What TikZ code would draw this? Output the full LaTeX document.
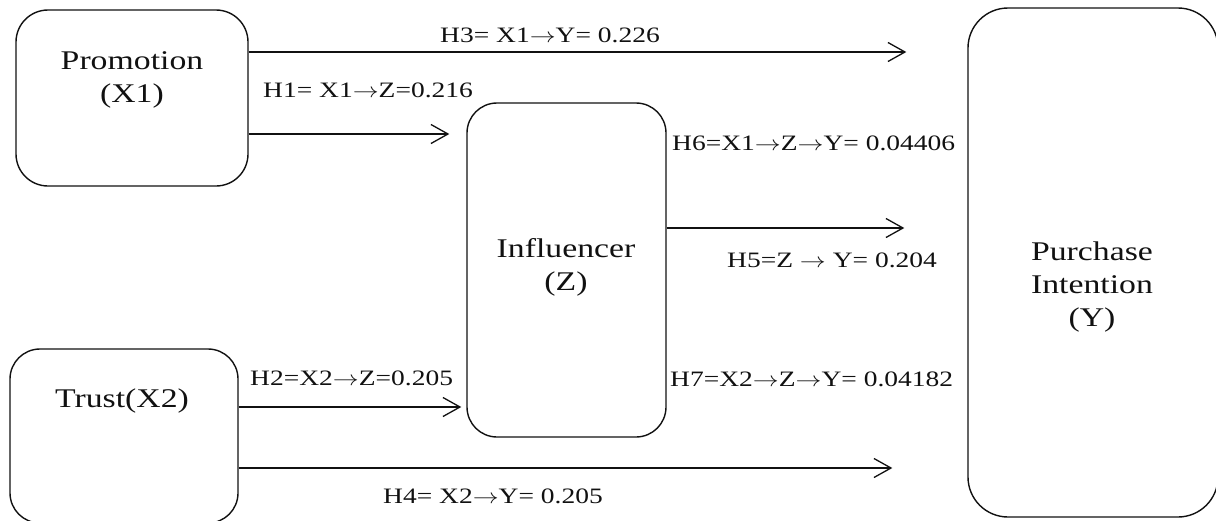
\documentclass[tikz,border=0pt]{standalone}
\usepackage{fontspec}
\setmainfont{Liberation Serif}[FakeStretch=1.25]
\usetikzlibrary{arrows.meta,positioning,calc}
\definecolor{ink}{HTML}{111111}
\newcommand{\harrow}{\scalebox{1.25}[1]{\ensuremath{\rightarrow}}}
\tikzset{
  box/.style={draw=ink, rounded corners=32pt, line width=1.4pt, fill=white},
  title/.style={font=\fontsize{27}{33}\selectfont, text=ink, align=center, inner sep=0pt},
  pathlabel/.style={font=\fontsize{22}{26}\selectfont, text=ink, anchor=base west, inner sep=0pt},
  arrow/.style={-{Straight Barb[length=17pt,width=19pt,line width=1.3pt]}, line width=1.3pt, draw=ink},
}

\begin{document}
\begin{tikzpicture}[x=1pt,y=-1pt]
\useasboundingbox (0,0) rectangle (1216,520);
% constructs
\node[box, minimum width=232pt, minimum height=176pt] (x1) at (132,98) {};
\node[box, minimum width=228pt, minimum height=174pt, rounded corners=30pt] (x2) at (124,436) {};
\node[box, minimum width=199pt, minimum height=334pt, rounded corners=30pt] (z) at (566.5,270) {};
\node[box, minimum width=250pt, minimum height=509pt, rounded corners=40pt] (y) at (1093,262.5) {};
\node[title] (x1t) at (132,80) {Promotion\\(X1)};
\node[title] (x2t) at (122,401) {Trust(X2)};
\node[title] (zt) at (566,267) {Influencer\\(Z)};
\node[title] (yt) at (1092,287) {Purchase\\Intention\\(Y)};
% paths
\draw[arrow, shorten >=61pt] (x1.east |- 0,52) -- (y.west |- 0,52);
\draw[arrow, shorten >=17pt] (x1.east |- 0,134) -- (z.west |- 0,134);
\draw[arrow, shorten >=63pt] (z.east |- 0,228) -- (y.west |- 0,228);
\draw[arrow, shorten >=5pt] (x2.east |- 0,407) -- (z.west |- 0,407);
\draw[arrow, shorten >=75pt] (x2.east |- 0,468) -- (y.west |- 0,468);
% coefficients
\node[pathlabel] (h3) at (440,42) {H3= X1\harrow Y= 0.226};
\node[pathlabel] (h1) at (263,97) {H1= X1\harrow Z=0.216};
\node[pathlabel] (h6) at (672,150) {H6=X1\harrow Z\harrow Y= 0.04406};
\node[pathlabel] (h5) at (727,267) {H5=Z \harrow{} Y= 0.204};
\node[pathlabel] (h2) at (250,385) {H2=X2\harrow Z=0.205};
\node[pathlabel] (h7) at (670,386) {H7=X2\harrow Z\harrow Y= 0.04182};
\node[pathlabel] (h4) at (383,503) {H4= X2\harrow Y= 0.205};
\end{tikzpicture}
\end{document}
